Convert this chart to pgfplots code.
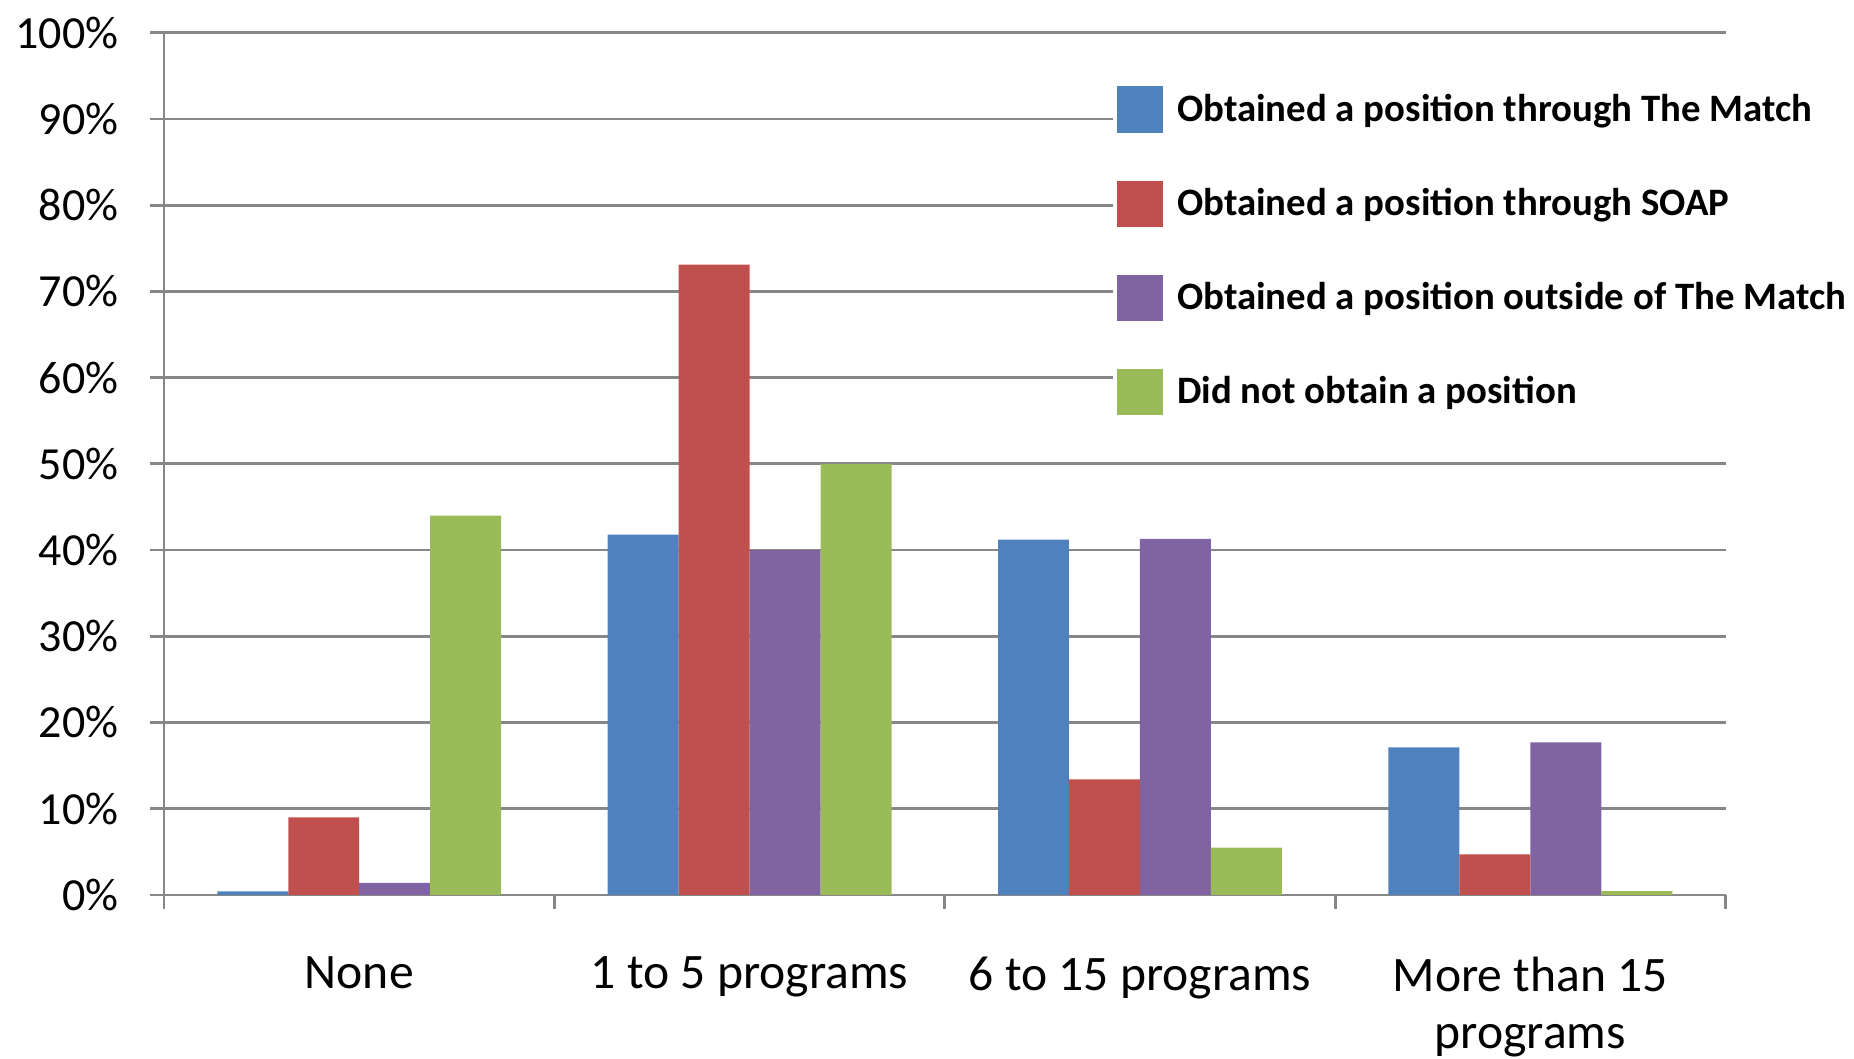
\documentclass[border=0pt]{standalone}
\usepackage{pgfplots}
\pgfplotsset{compat=1.18}
\usepackage{fontspec}
\setmainfont{Carlito}
\definecolor{cblue}{HTML}{4F81BD}
\definecolor{cred}{HTML}{C0504D}
\definecolor{cpurple}{HTML}{8064A2}
\definecolor{cgreen}{HTML}{9BBB59}
\definecolor{gridc}{HTML}{878787}
\begin{document}
\begin{tikzpicture}
\begin{axis}[
  width=780.5pt, height=431pt, scale only axis,
  ybar=0pt, bar width=0.1818,
  xmin=-0.5, xmax=3.5, ymin=0, ymax=100,
  axis x line*=bottom, axis y line*=left,
  axis line style={draw=gridc, line width=1.4pt, -},
  xtick={0,1,2,3},
  xticklabels={None,1 to 5 programs,6 to 15 programs,More than 15\\programs},
  minor xtick={-0.5,0.5,1.5,2.5,3.5},
  every major x tick/.append style={draw=none},
  tick align=outside,
  major tick length=7pt, minor tick length=7pt,
  every tick/.append style={draw=gridc, line width=1.4pt},
  ytick={0,10,...,100},
  yticklabels={0\%,10\%,20\%,30\%,40\%,50\%,60\%,70\%,80\%,90\%,100\%},
  ymajorgrids,
  grid style={draw=gridc, line width=1.4pt},
  xticklabel style={font=\fontsize{24.8}{28.6}\selectfont, align=center, inner ysep=0.8pt, yshift=-22.9pt},
  yticklabel style={font=\fontsize{23}{27}\selectfont, inner xsep=7.7pt, inner ysep=8.4pt, xshift=-8pt},
  legend cell align=left,
  legend style={draw=none, fill=white, at={(0.6076,0.952)}, anchor=north west,
    font=\fontsize{19.4}{22}\selectfont\bfseries, row sep=24pt, column sep=5pt, inner xsep=2pt, inner ysep=6pt},
  legend image code/.code={\fill[#1] (0pt,-11.5pt) rectangle (23pt,11.5pt);},
]
\addplot[fill=cblue, draw=none] coordinates {(0,0.4) (1,41.8) (2,41.2) (3,17.1)};
\addplot[fill=cred, draw=none] coordinates {(0,9.0) (1,73.1) (2,13.4) (3,4.7)};
\addplot[fill=cpurple, draw=none] coordinates {(0,1.4) (1,40.0) (2,41.3) (3,17.7)};
\addplot[fill=cgreen, draw=none] coordinates {(0,44.0) (1,50.0) (2,5.5) (3,0.45)};
\legend{Obtained a position through The Match, Obtained a position through SOAP, Obtained a position outside of The Match, Did not obtain a position}
\end{axis}
\end{tikzpicture}
\end{document}
